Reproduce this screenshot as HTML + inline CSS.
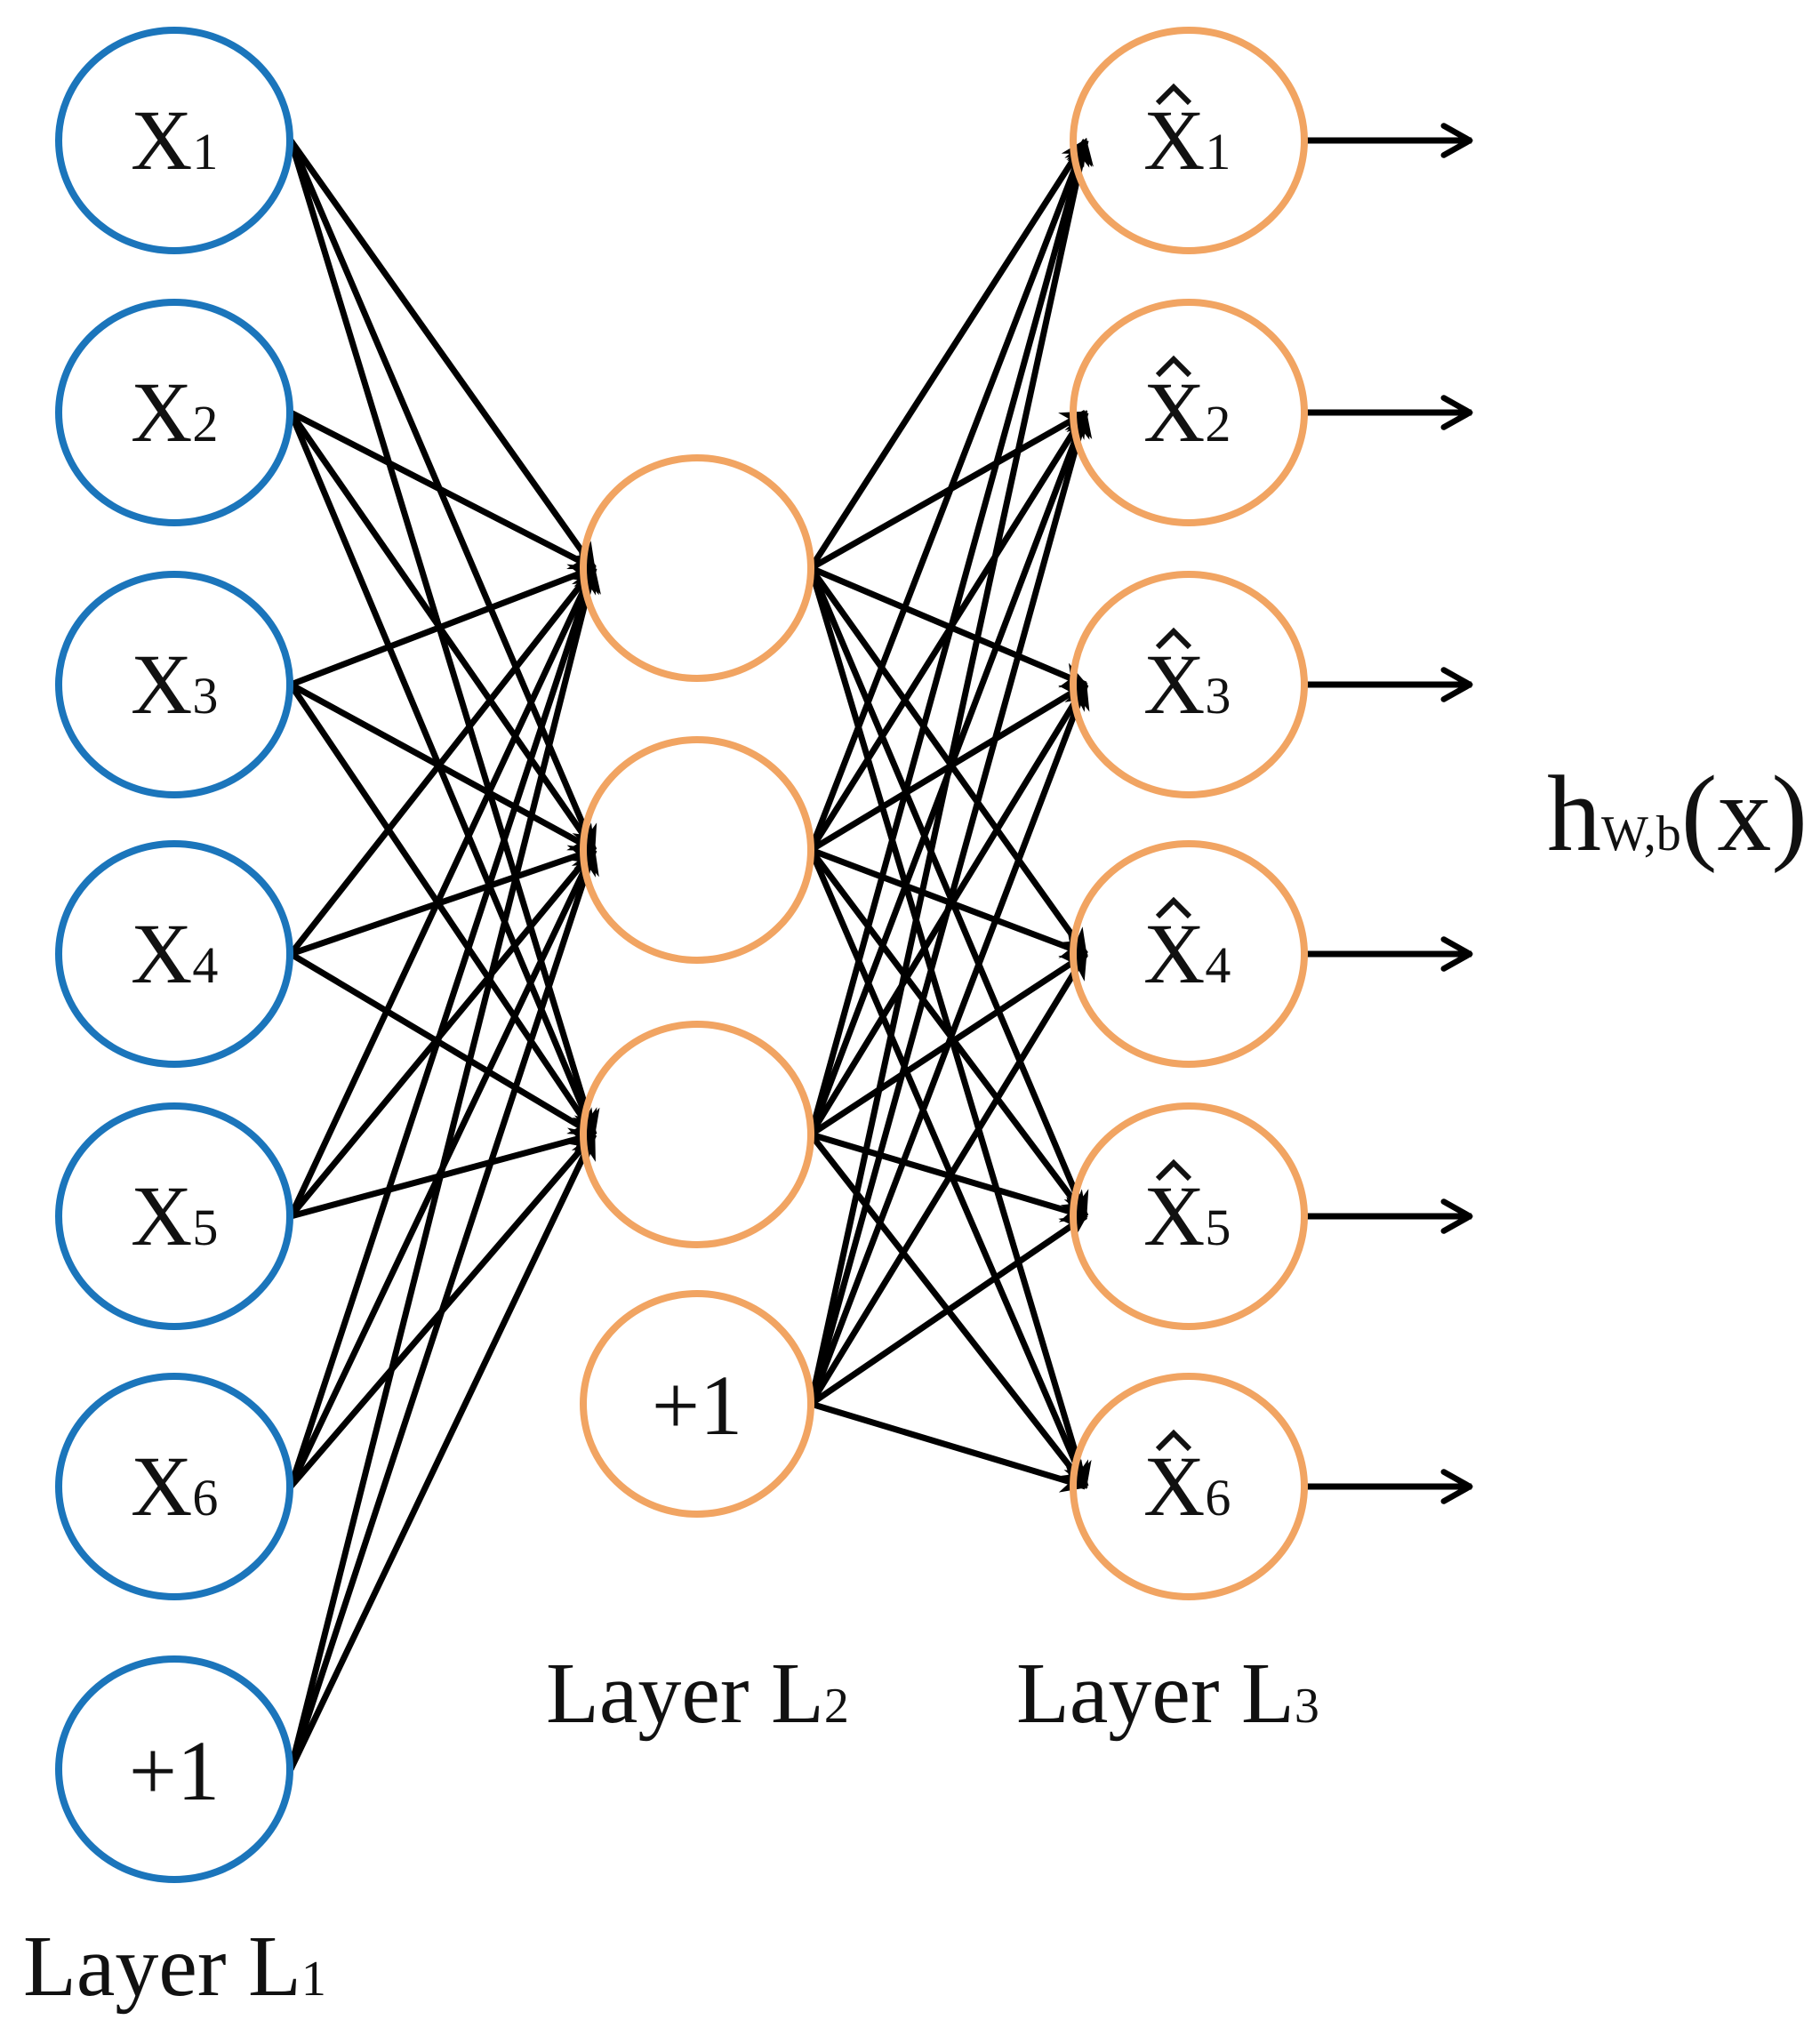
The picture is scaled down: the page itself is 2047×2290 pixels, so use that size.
<!DOCTYPE html>
<html><head><meta charset="utf-8"><style>
html,body{margin:0;padding:0;background:#fff;}
svg{display:block;}
text{font-family:"Liberation Serif",serif;fill:#111;}
</style></head><body>
<svg width="2047" height="2290" viewBox="0 0 2047 2290" xmlns="http://www.w3.org/2000/svg">
<defs>
<marker id="a" viewBox="0 0 10 10" refX="9" refY="5" markerWidth="34" markerHeight="30" orient="auto" markerUnits="userSpaceOnUse">
<path d="M0,0 L10,5 L0,10 L3,5 z" fill="#000"/>
</marker>
<marker id="o" viewBox="0 0 12 12" refX="10.5" refY="6" markerWidth="44" markerHeight="44" orient="auto" markerUnits="userSpaceOnUse">
<path d="M2,1.5 L10,6 L2,10.5" fill="none" stroke="#000" stroke-width="1.8" stroke-linecap="round" stroke-linejoin="round"/>
</marker>
</defs>
<g id="lines" stroke="#000" stroke-width="7" fill="none"></g>
<g id="circ" fill="none" stroke-width="8"></g>
<g id="txt"></g>
<text x="26" y="2244" font-size="98">Layer L<tspan font-size="56">1</tspan></text>
<text x="614" y="1937" font-size="98">Layer L<tspan font-size="56">2</tspan></text>
<text x="1143" y="1937" font-size="98">Layer L<tspan font-size="56">3</tspan></text>
<text x="1740" y="956" font-size="122">h<tspan font-size="56">W,b</tspan>(x)</text>
<script>
var NS="http://www.w3.org/2000/svg";
function el(t,a,p){var e=document.createElementNS(NS,t);for(var k in a)e.setAttribute(k,a[k]);document.getElementById(p).appendChild(e);return e;}
var L1=[158,464,770,1073,1368,1672,1990], L2=[639,956,1276,1579], L3=[158,464,770,1073,1368,1672];
var c1=196,c2=784,c3=1337,r=128;
for(var i=0;i<7;i++)for(var j=0;j<3;j++)el("line",{x1:c1+r+3,y1:L1[i],x2:c2-r+12,y2:L2[j],"marker-end":"url(#a)"},"lines");
for(var i=0;i<4;i++)for(var j=0;j<6;j++)el("line",{x1:c2+r,y1:L2[i],x2:c3-r+12,y2:L3[j],"marker-end":"url(#a)"},"lines");
for(var j=0;j<6;j++)el("line",{x1:c3+r+4,y1:L3[j],x2:1655,y2:L3[j],"marker-end":"url(#o)"},"lines");
for(var i=0;i<7;i++)el("ellipse",{cx:c1,cy:L1[i],rx:r+2,ry:r-4,stroke:"#1b75bb"},"circ");
for(var i=0;i<4;i++)el("ellipse",{cx:c2,cy:L2[i],rx:r,ry:r-4,stroke:"#f1a462"},"circ");
for(var i=0;i<6;i++)el("ellipse",{cx:c3,cy:L3[i],rx:r+2,ry:r-4,stroke:"#f1a462"},"circ");
function lab(x,y,n,hat){
 var t=el("text",{x:x,y:y,"font-size":96},"txt");t.textContent="X";
 var s=document.createElementNS(NS,"tspan");s.setAttribute("font-size","58");s.textContent=n;t.appendChild(s);
 if(hat)el("path",{d:"M"+(x+16)+","+(y-74)+" L"+(x+34)+","+(y-92)+" L"+(x+52)+","+(y-74),stroke:"#111","stroke-width":6,fill:"none"},"txt");
}
for(var i=0;i<6;i++)lab(147,L1[i]+32,String(i+1),false);
for(var i=0;i<6;i++)lab(1286,L3[i]+32,String(i+1),true);
var p=el("text",{x:c1,y:L1[6]+34,"font-size":96,"text-anchor":"middle"},"txt");p.textContent="+1";
var q=el("text",{x:c2,y:L2[3]+34,"font-size":96,"text-anchor":"middle"},"txt");q.textContent="+1";
</script>
</svg>
</body></html>
